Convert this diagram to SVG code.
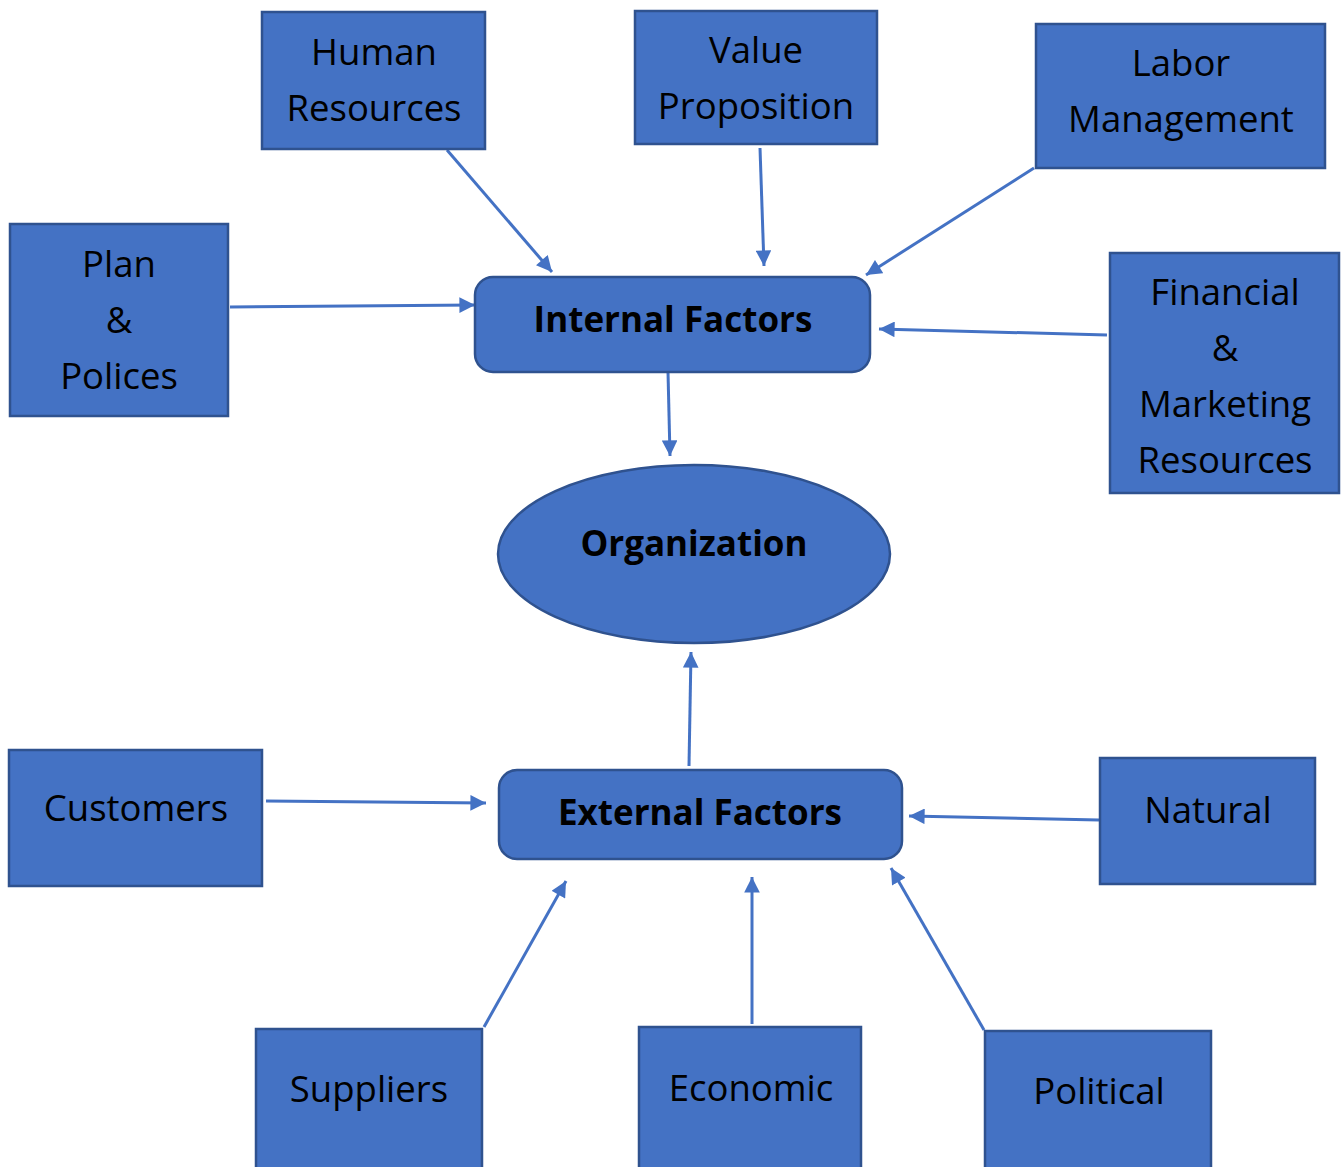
<svg xmlns="http://www.w3.org/2000/svg" width="1341" height="1167" viewBox="0 0 1341 1167">
  <defs>
    <marker id="arrow" viewBox="0 0 10 10" refX="10" refY="5" markerWidth="5.5" markerHeight="5.2" markerUnits="strokeWidth" orient="auto">
      <path d="M0,0 L10,5 L0,10 z" fill="#4472C4"/>
    </marker>
    <style>
      .box { fill: #4472C4; stroke: #2F528F; stroke-width: 2.5; }
      .label { font-family: "Open Sans", "Liberation Sans", sans-serif; font-size: 36.5px; fill: #000; text-anchor: middle; }
      .bold { font-weight: bold; font-size: 35px; }
      .link { stroke: #4472C4; stroke-width: 3; fill: none; marker-end: url(#arrow); }
    </style>
  </defs>
  <rect width="1341" height="1167" fill="#fff"/>

  <!-- connectors -->
  <g id="connectors">
    <line class="link" x1="447" y1="150" x2="552" y2="272"/>
    <line class="link" x1="760" y1="148" x2="764" y2="266"/>
    <line class="link" x1="1034" y1="168" x2="866" y2="275"/>
    <line class="link" x1="230" y1="307" x2="475" y2="305"/>
    <line class="link" x1="1107" y1="335" x2="879" y2="329"/>
    <line class="link" x1="668" y1="372" x2="670" y2="456"/>
    <line class="link" x1="689" y1="766" x2="691" y2="652"/>
    <line class="link" x1="266" y1="801" x2="486" y2="803"/>
    <line class="link" x1="1099" y1="820" x2="909" y2="816"/>
    <line class="link" x1="484" y1="1027" x2="566" y2="881"/>
    <line class="link" x1="752" y1="1024" x2="752" y2="877"/>
    <line class="link" x1="984" y1="1030" x2="891" y2="868"/>
  </g>

  <!-- internal factor sources -->
  <g id="human-resources">
    <rect class="box" x="262" y="12" width="223" height="137"/>
    <text class="label" x="374" y="65">Human</text>
    <text class="label" x="374" y="121">Resources</text>
  </g>
  <g id="value-proposition">
    <rect class="box" x="635" y="11" width="242" height="133"/>
    <text class="label" x="756" y="63">Value</text>
    <text class="label" x="756" y="119">Proposition</text>
  </g>
  <g id="labor-management">
    <rect class="box" x="1036" y="24" width="289" height="144"/>
    <text class="label" x="1181" y="76">Labor</text>
    <text class="label" x="1181" y="132">Management</text>
  </g>
  <g id="plan-polices">
    <rect class="box" x="10" y="224" width="218" height="192"/>
    <text class="label" x="119" y="277">Plan</text>
    <text class="label" x="119" y="333">&amp;</text>
    <text class="label" x="119" y="389">Polices</text>
  </g>
  <g id="financial-marketing">
    <rect class="box" x="1110" y="253" width="229" height="240"/>
    <text class="label" x="1225" y="305">Financial</text>
    <text class="label" x="1225" y="361">&amp;</text>
    <text class="label" x="1225" y="417">Marketing</text>
    <text class="label" x="1225" y="473">Resources</text>
  </g>

  <!-- central nodes -->
  <g id="internal-factors">
    <rect class="box" x="475" y="277" width="395" height="95" rx="18" ry="18"/>
    <text class="label bold" x="673" y="332">Internal Factors</text>
  </g>
  <g id="organization">
    <ellipse class="box" cx="694" cy="554" rx="196" ry="89"/>
    <text class="label bold" x="694" y="556">Organization</text>
  </g>
  <g id="external-factors">
    <rect class="box" x="499" y="770" width="403" height="89" rx="18" ry="18"/>
    <text class="label bold" x="700" y="825">External Factors</text>
  </g>

  <!-- external factor sources -->
  <g id="customers">
    <rect class="box" x="9" y="750" width="253" height="136"/>
    <text class="label" x="136" y="821">Customers</text>
  </g>
  <g id="natural">
    <rect class="box" x="1100" y="758" width="215" height="126"/>
    <text class="label" x="1208" y="823">Natural</text>
  </g>
  <g id="suppliers">
    <rect class="box" x="256" y="1029" width="226" height="145"/>
    <text class="label" x="369" y="1102">Suppliers</text>
  </g>
  <g id="economic">
    <rect class="box" x="639" y="1027" width="222" height="147"/>
    <text class="label" x="751" y="1101">Economic</text>
  </g>
  <g id="political">
    <rect class="box" x="985" y="1031" width="226" height="143"/>
    <text class="label" x="1099" y="1104">Political</text>
  </g>
</svg>
